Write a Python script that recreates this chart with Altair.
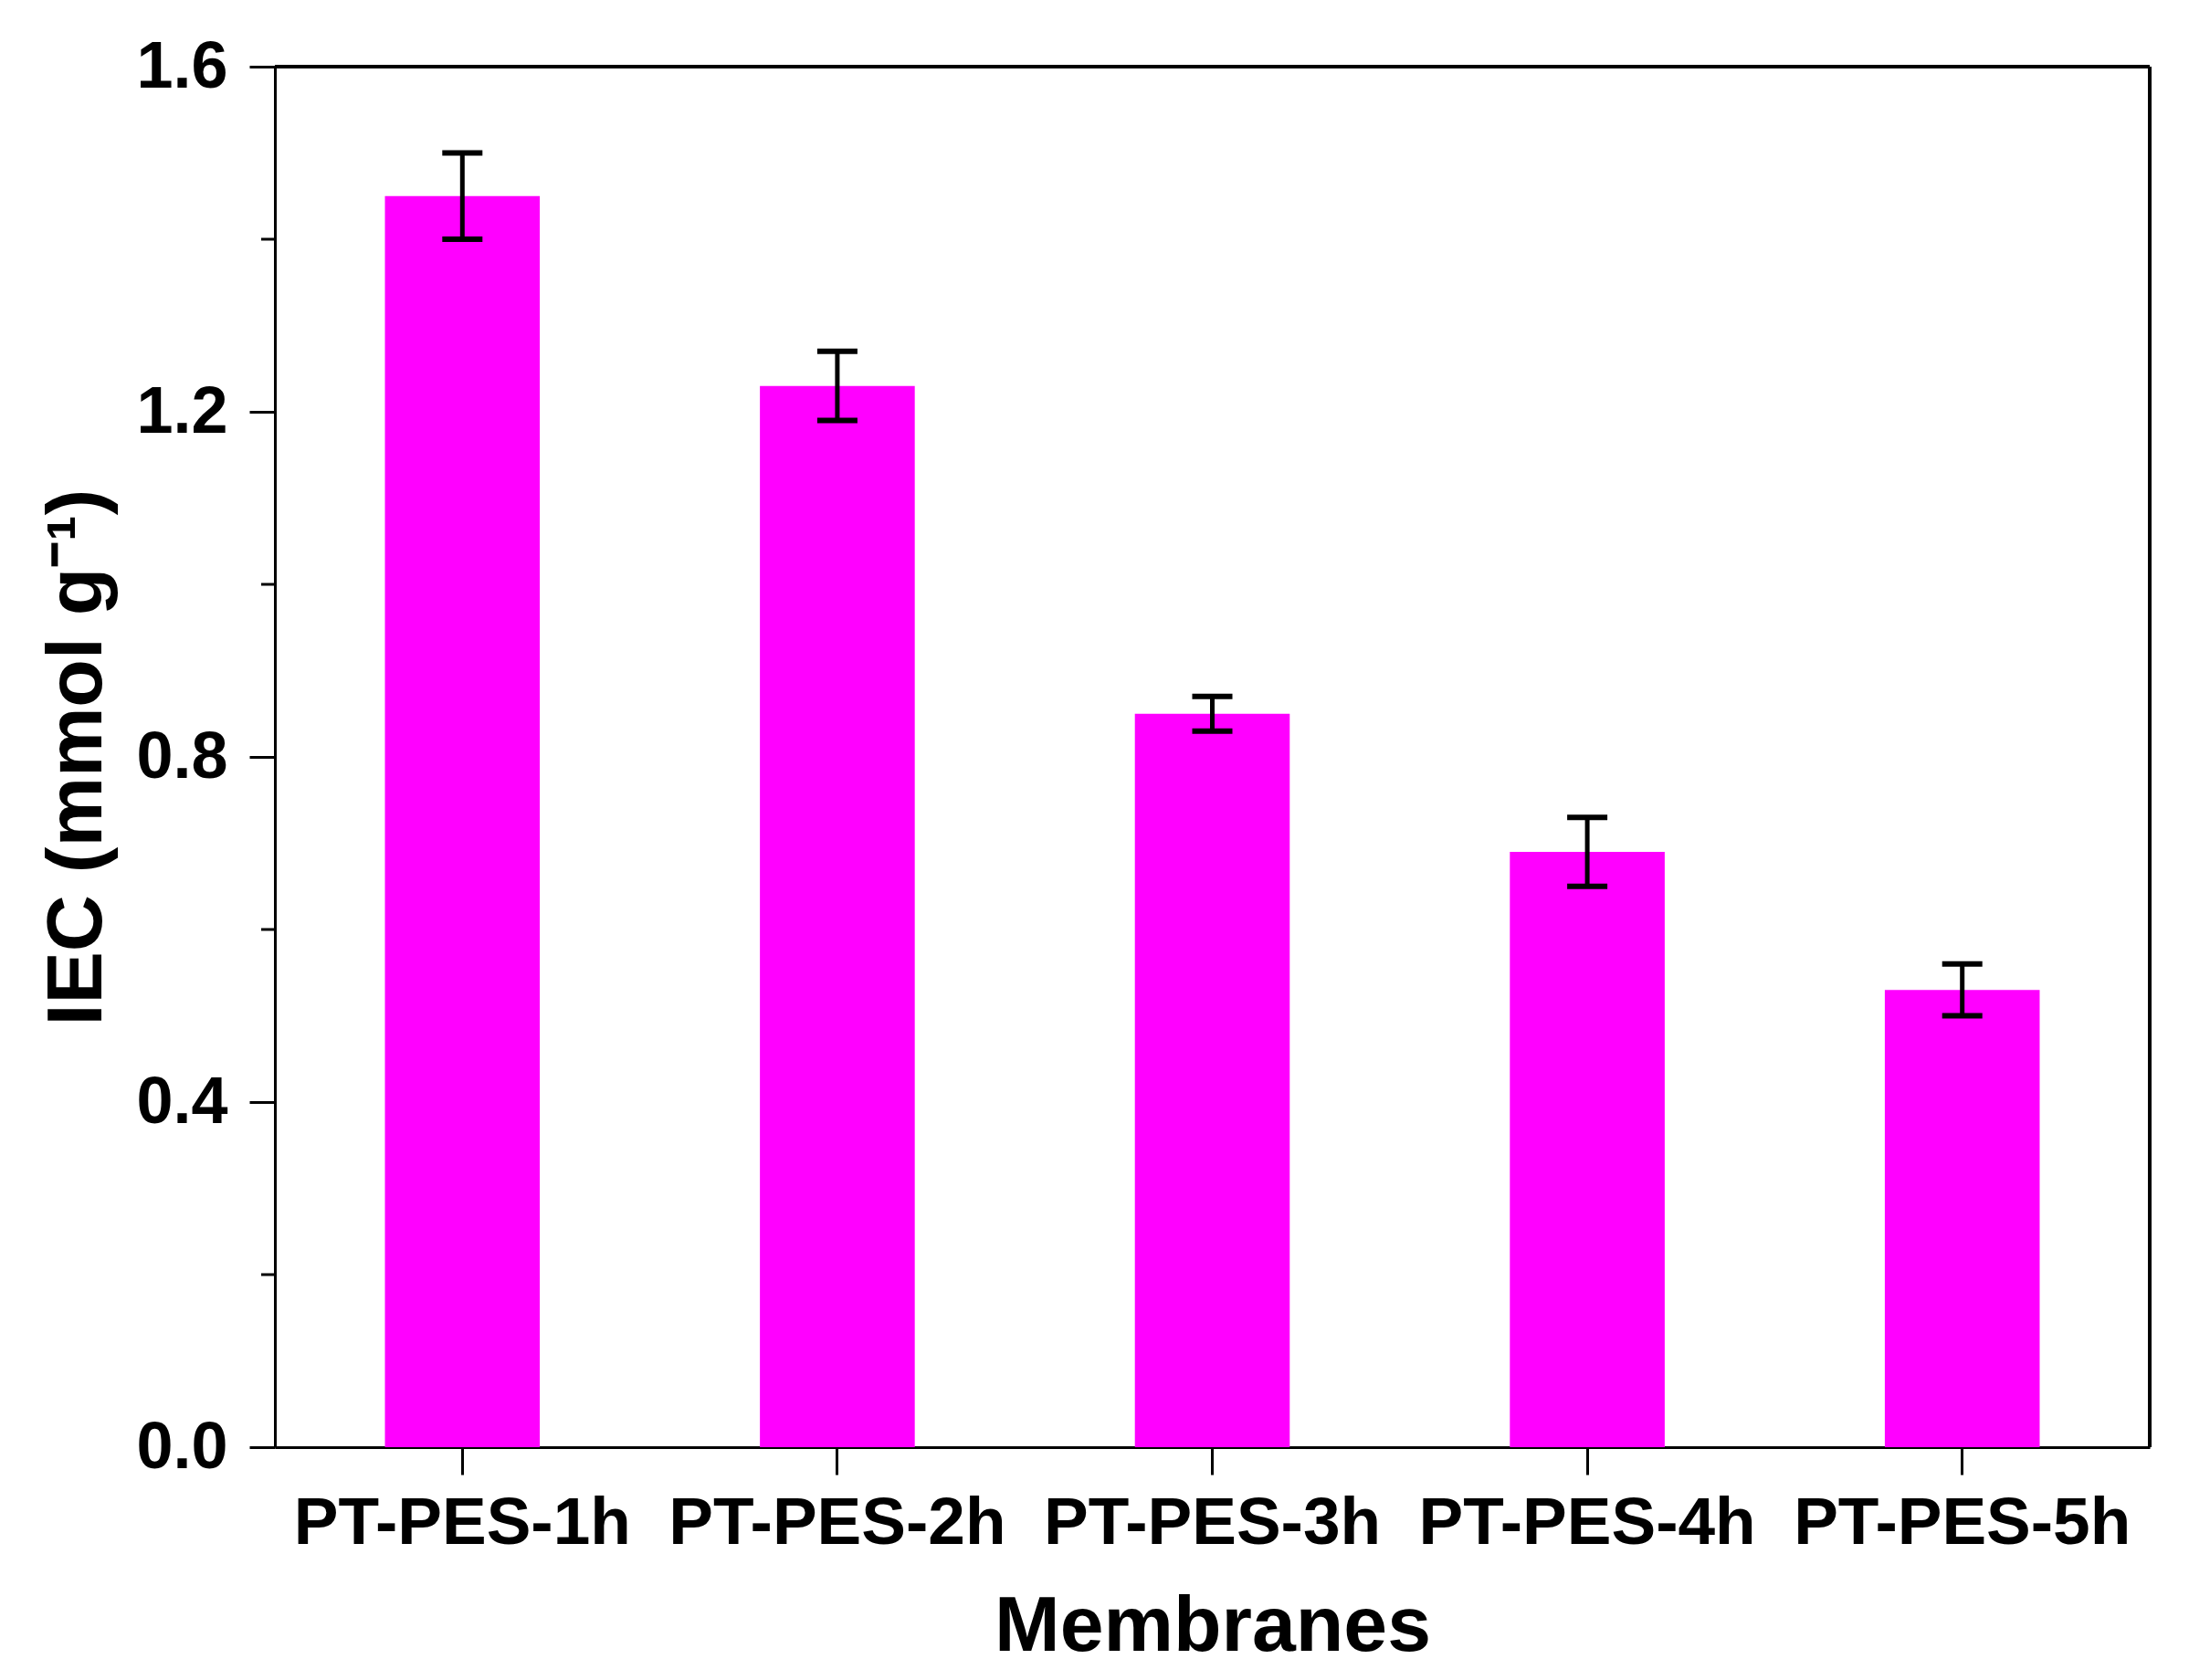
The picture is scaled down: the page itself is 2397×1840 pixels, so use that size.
import altair as alt
import pandas as pd

membranes = ["PT-PES-1h", "PT-PES-2h", "PT-PES-3h", "PT-PES-4h", "PT-PES-5h"]
iec = [1.45, 1.23, 0.85, 0.69, 0.53]
err = [0.05, 0.04, 0.02, 0.04, 0.03]
minor_ticks = [0.2, 0.6, 1.0, 1.4]

df = pd.DataFrame({"m": membranes, "v": iec, "e": err})
df["lo"] = df["v"] - df["e"]
df["hi"] = df["v"] + df["e"]
dminor = pd.DataFrame({"t": minor_ticks})

W, H = 2053, 1512
FONT = "Liberation Sans"

x = alt.X("m:N", sort=membranes,
          scale=alt.Scale(paddingInner=0.587, paddingOuter=0.2935),
          axis=alt.Axis(title="Membranes", labelAngle=0, labelFont=FONT, labelFontSize=73,
                        labelFontWeight="bold", labelColor="black", labelPadding=17,
                        labelLimit=0,
                        titleFont=FONT, titleFontSize=86, titleFontWeight="bold",
                        titleColor="black", titlePadding=34, tickSize=30, tickWidth=3,
                        tickColor="black", domainColor="black", domainWidth=3))
yscale = alt.Scale(domain=[0, 1.6], nice=False)
y = alt.Y("v:Q", scale=yscale,
          axis=alt.Axis(title="IEC (mmol g⁻¹)", values=[0, 0.4, 0.8, 1.2, 1.6], format=".1f",
                        labelFont=FONT, labelFontSize=72, labelFontWeight="bold",
                        labelColor="black", labelPadding=24, tickSize=28, tickWidth=3,
                        tickColor="black", domainColor="black", domainWidth=3,
                        titleFont=FONT, titleFontSize=86, titleFontWeight="bold",
                        titleColor="black", titleX=-217, titleY=H / 2,
                        titleAlign="center", titleBaseline="middle", grid=False))

bars = alt.Chart(df).mark_bar(color="#FF00FF").encode(x=x, y=y)
rule = alt.Chart(df).mark_rule(color="black", strokeWidth=5).encode(
    x=alt.X("m:N", sort=membranes), y=alt.Y("lo:Q", scale=yscale), y2="hi:Q")
cap_lo = alt.Chart(df).mark_tick(color="black", size=44, thickness=6, opacity=1).encode(
    x=alt.X("m:N", sort=membranes), y=alt.Y("lo:Q", scale=yscale))
cap_hi = alt.Chart(df).mark_tick(color="black", size=44, thickness=6, opacity=1).encode(
    x=alt.X("m:N", sort=membranes), y=alt.Y("hi:Q", scale=yscale))
minor = alt.Chart(dminor).mark_rule(color="black", strokeWidth=3).encode(
    x=alt.value(-15), x2=alt.value(0), y=alt.Y("t:Q", scale=yscale))
frame_top = alt.Chart(dminor).mark_rule(color="black", strokeWidth=4).encode(
    x=alt.value(0), x2=alt.value(W), y=alt.value(0))
frame_right = alt.Chart(dminor).mark_rule(color="black", strokeWidth=4).encode(
    x=alt.value(W), y=alt.value(0), y2=alt.value(H))

chart = alt.layer(bars, rule, cap_lo, cap_hi, minor, frame_top, frame_right).properties(
    width=W, height=H,
    autosize=alt.AutoSizeParams(type="none"),
    padding={"left": 293, "top": 65, "right": 30, "bottom": 240},
).configure_view(stroke=None).configure(background="white")

chart.save("out.html", embed_options={"renderer": "svg", "actions": False})
